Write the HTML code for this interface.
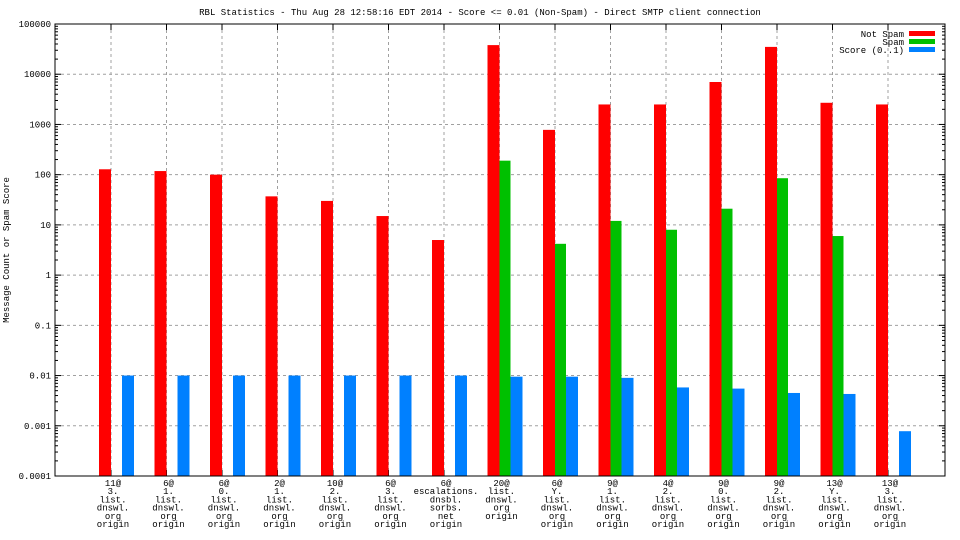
<!DOCTYPE html>
<html><head><meta charset="utf-8"><style>
body{margin:0;background:#fff}
svg{display:block}
text{font-family:"Liberation Mono","DejaVu Sans Mono",monospace;font-size:9px;fill:#000}
</style></head><body>
<svg id="chart" width="960" height="540" xmlns="http://www.w3.org/2000/svg"></svg>
<script>
const categories=[
["11@","3.","list.","dnswl.","org","origin"],
["6@","1.","list.","dnswl.","org","origin"],
["6@","0.","list.","dnswl.","org","origin"],
["2@","1.","list.","dnswl.","org","origin"],
["10@","2.","list.","dnswl.","org","origin"],
["6@","3.","list.","dnswl.","org","origin"],
["6@","escalations.","dnsbl.","sorbs.","net","origin"],
["20@","list.","dnswl.","org","origin"],
["6@","Y.","list.","dnswl.","org","origin"],
["9@","1.","list.","dnswl.","org","origin"],
["4@","2.","list.","dnswl.","org","origin"],
["9@","0.","list.","dnswl.","org","origin"],
["9@","2.","list.","dnswl.","org","origin"],
["13@","Y.","list.","dnswl.","org","origin"],
["13@","3.","list.","dnswl.","org","origin"]];
const notSpam=[128,118,100,37,30,15,5,38000,780,2500,2500,7000,35000,2700,2500];
const spam=[0,0,0,0,0,0,0,190,4.2,12,8,21,85,6,0];
const score=[0.01,0.01,0.01,0.01,0.01,0.01,0.01,0.0095,0.0095,0.009,0.0058,0.0055,0.0045,0.0043,0.00078];
const yTicks=["100000","10000","1000","100","10","1","0.1","0.01","0.001","0.0001"];

const svg=document.getElementById('chart');
const NS="http://www.w3.org/2000/svg";
const L=55,R=945,T=24,B=476,LMIN=-4,LMAX=5;
function y(v){return B-(Math.log10(v)-LMIN)/(LMAX-LMIN)*(B-T);}
function cx(i){return 111+i*(888-111)/(categories.length-1);}
function el(tag,attrs,parent){const e=document.createElementNS(NS,tag);for(const k in attrs)e.setAttribute(k,attrs[k]);(parent||svg).appendChild(e);return e;}
function txt(x,yy,s,anchor){const t=el('text',{x:x,y:yy,'text-anchor':anchor||'middle'});t.textContent=s;return t;}

const title=txt(480,15,"RBL Statistics - Thu Aug 28 12:58:16 EDT 2014 - Score <= 0.01 (Non-Spam) - Direct SMTP client connection");


const yt=el('text',{x:0,y:0,'text-anchor':'middle',transform:'translate(9,250) rotate(-90)'});
yt.textContent="Message Count or Spam Score";



// grid + y ticks
yTicks.forEach(s=>{
  const v=parseFloat(s),yy=y(v);
  if(yy>T+1&&yy<B-1){const g=el('line',{x1:L,x2:R,y1:yy,y2:yy,stroke:'#a0a0a0','stroke-dasharray':'3,3'});
  
  }
  el('line',{x1:L,x2:L+6,y1:yy,y2:yy,stroke:'#000'});
  el('line',{x1:R,x2:R-6,y1:yy,y2:yy,stroke:'#000'});
  const lbl=txt(L-4,yy+3,s,'end');
  
  
  if(v<100000)for(let m=2;m<10;m++){const my=y(v*m);el('line',{x1:L,x2:L+3,y1:my,y2:my,stroke:'#000'});el('line',{x1:R,x2:R-3,y1:my,y2:my,stroke:'#000'});}
});
categories.forEach((c,i)=>{
  const x=cx(i);
  const g=el('line',{x1:x,x2:x,y1:T,y2:B,stroke:'#a0a0a0','stroke-dasharray':'3,3'});
  
  
  el('line',{x1:x,x2:x,y1:T,y2:T+6,stroke:'#000'});
  el('line',{x1:x,x2:x,y1:B,y2:B-6,stroke:'#000'});
});
// bars
function bar(v,x0,w,color,name){
  if(!(v>0))return;
  const yy=Math.max(T,y(v));
  const r=el('rect',{x:x0,y:yy,width:w,height:B-yy,fill:color});
  
  
}
categories.forEach((c,i)=>{
  const x=cx(i);
  bar(notSpam[i],x-12,12,'#ff0000','bar-not-spam');
  bar(spam[i],x,11,'#00c000','bar-spam');
  bar(score[i],x+11,12,'#0080ff','bar-score');
  c.forEach((s,k)=>{const t=txt(x+2,486+k*8.2,s);
    
    });
});
const fr=el('rect',{x:L,y:T,width:R-L,height:B-T,fill:'none',stroke:'#000','stroke-width':1});


// legend
const leg=[["Not Spam","#ff0000"],["Spam","#00c000"],["Score (0..1)","#0080ff"]];
leg.forEach((l,k)=>{
  const yy=34+k*8;
  const t=txt(904,yy+3,l[0],'end');
  
  
  const r=el('rect',{x:909,y:yy-3,width:26,height:5,fill:l[1]});
  
  
});
</script>
</body></html>
